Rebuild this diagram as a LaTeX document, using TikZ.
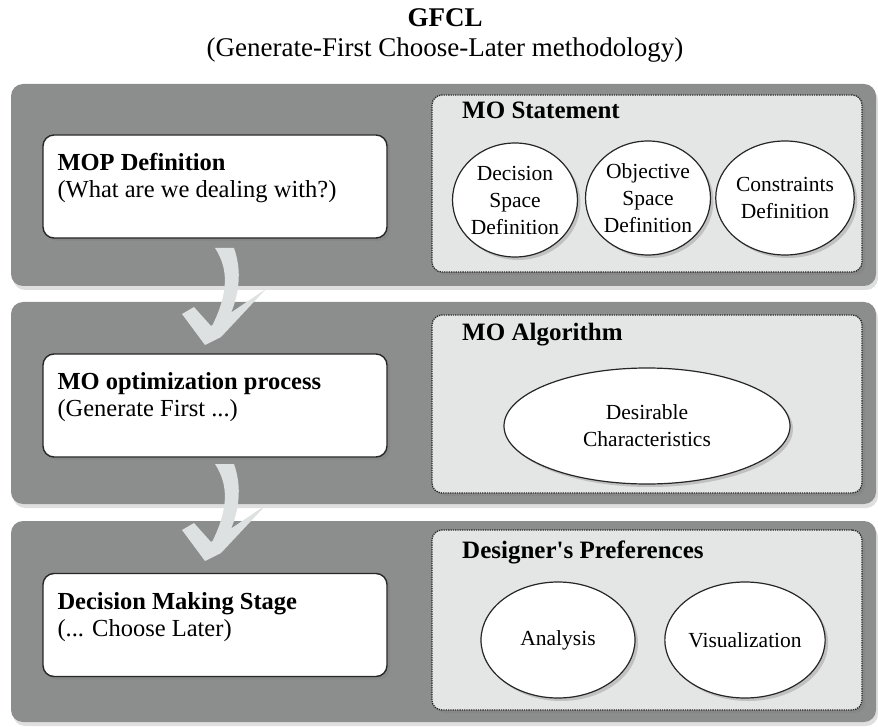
\documentclass[tikz,border=0pt]{standalone}
\usepackage{fontspec}
\setmainfont{Liberation Serif}[Ligatures=TeXOff]
\usetikzlibrary{shadows,shapes.geometric,positioning}
\definecolor{bandgray}{RGB}{140,141,141}
\definecolor{panelgray}{RGB}{228,229,229}
\definecolor{swooshgray}{RGB}{222,225,225}
\begin{document}
\begin{tikzpicture}[x=1pt, y=-1pt,
    band/.style={fill=bandgray, rounded corners=12pt,
      drop shadow={opacity=0.25, shadow xshift=2pt, shadow yshift=-4pt}},
    stagebox/.style={draw=black!85, line width=1.4pt, fill=white,
      rounded corners=11pt, minimum width=344pt, minimum height=103pt,
      drop shadow={opacity=0.45, shadow xshift=3pt, shadow yshift=-3pt}},
    stagetext/.style={anchor=north west, align=left, inner sep=0pt,
      font=\fontsize{24.5}{27}\selectfont},
    panel/.style={draw=black!85, densely dotted, line width=1.3pt,
      fill=panelgray, rounded corners=10pt, minimum width=430pt,
      drop shadow={opacity=0.4, shadow xshift=3pt, shadow yshift=-3pt}},
    paneltitle/.style={anchor=west, inner sep=0pt,
      font=\fontsize{25}{27}\selectfont\bfseries},
    bubble/.style={ellipse, draw=black!85, line width=1.2pt, fill=white,
      align=center, inner sep=0pt, font=\fontsize{21.5}{27}\selectfont,
      drop shadow={opacity=0.35, shadow xshift=3pt, shadow yshift=-3pt}},
    swoosh/.style={fill=swooshgray}
  ]
  \useasboundingbox (0,0) rectangle (878,727);

  % heading
  \node[font=\fontsize{27}{30}\selectfont\bfseries] (title) at (445,18) {GFCL};
  \node[font=\fontsize{27}{30}\selectfont] (subtitle) at (445,50)
    {(Generate-First Choose-Later methodology)};

  % the three bands
  \foreach \top/\bot in {84/286, 302/504, 521/722}
    \path[band] (11,\top) rectangle (876,\bot);

  % the two curved arrows between the stages
  \foreach \dy in {0,216}
  {\begin{scope}[shift={(0,\dy)}]
    \path[swoosh] (215,248) .. controls (228,268) and (230,292) .. (210,330)
      -- (221,333) .. controls (243,296) and (241,268) .. (234,248) -- cycle;
    \path[swoosh] (205,345) -- (182,314) -- (194,307) -- (211,326)
      -- (266,289) -- (221,337) -- cycle;
  \end{scope}}

  % left column: the stages
  \node[stagebox] (mop) at (215,186.5) {};
  \node[stagetext] (moptext) at ([shift={(15,19)}]mop.north west)
    {\textbf{MOP Definition}\\(What are we dealing with?)};
  \node[stagebox] (moopt) at (215,405.5) {};
  \node[stagetext] (mopttext) at ([shift={(15,19)}]moopt.north west)
    {\textbf{MO optimization process}\\(Generate First ...)};
  \node[stagebox] (dms) at (215,625) {};
  \node[stagetext] (dmstext) at ([shift={(15,19)}]dms.north west)
    {\textbf{Decision Making Stage}\\(... Choose Later)};

  % right column: what each stage deals with
  \node[panel, minimum height=177pt] (stmt) at (647,183.5) {};
  \node[paneltitle] (stmttitle) at (462,110) {MO Statement};
  \node[bubble, minimum width=120pt, minimum height=114pt] (dspace) at (515,200)
    {Decision\\Space\\Definition};
  \node[bubble, minimum width=124pt, minimum height=114pt] (ospace) at (648,198)
    {Objective\\Space\\Definition};
  \node[bubble, minimum width=124pt, minimum height=114pt] (cons) at (785,198)
    {Constraints\\Definition};

  \node[panel, minimum height=178pt] (algo) at (647,404) {};
  \node[paneltitle] (algotitle) at (462,335) {MO Algorithm};
  \node[bubble, minimum width=286pt, minimum height=116pt] (desir) at (647,426)
    {Desirable\\Characteristics};

  \node[panel, minimum height=180pt] (pref) at (647,620) {};
  \node[paneltitle] (preftitle) at (462,552) {Designer's Preferences};
  \node[bubble, minimum width=154pt, minimum height=116pt] (anal) at (558,640)
    {Analysis};
  \node[bubble, minimum width=154pt, minimum height=116pt] (visu) at (745,640)
    {Visualization};
\end{tikzpicture}
\end{document}
